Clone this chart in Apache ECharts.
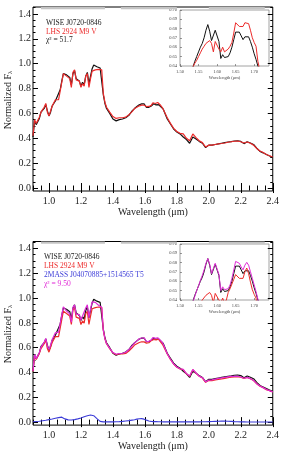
<!DOCTYPE html>
<html>
<head>
<meta charset="utf-8">
<script src="https://cdn.jsdelivr.net/npm/echarts@6/dist/echarts.min.js"></script>
<style>
  html, body { margin: 0; padding: 0; background: #fff; }
  #chart { width: 282px; height: 452px; }
</style>
</head>
<body>
<div id="chart"></div>
<script>
// wavelength grid (micron), finer inside the H-band peak shown in the insets
const wavelength = [
  0.90, 0.91, 0.92, 0.93, 0.94, 0.95, 0.96, 0.97, 0.98, 0.99,
  1.00, 1.01, 1.02, 1.03, 1.04, 1.05, 1.06, 1.07, 1.08, 1.09,
  1.10, 1.11, 1.12, 1.13, 1.14, 1.15, 1.16, 1.17, 1.18, 1.19,
  1.20, 1.21, 1.22, 1.23, 1.24, 1.25, 1.26, 1.27, 1.28, 1.29,
  1.30, 1.31, 1.32, 1.33, 1.34, 1.35, 1.36,
  1.38, 1.40, 1.42, 1.44, 1.46, 1.48, 1.50, 1.52,
  1.535, 1.540, 1.545, 1.550, 1.555, 1.560, 1.565, 1.570, 1.575, 1.580,
  1.585, 1.590, 1.595, 1.600, 1.605, 1.610, 1.615, 1.620, 1.625, 1.630,
  1.635, 1.640, 1.645, 1.650, 1.655, 1.660, 1.665, 1.670, 1.675, 1.680,
  1.685, 1.690, 1.695, 1.700, 1.705, 1.710, 1.715,
  1.72, 1.74, 1.76, 1.78, 1.80, 1.82, 1.84, 1.86, 1.88, 1.90,
  1.92, 1.94, 1.96, 1.98, 2.00, 2.02, 2.04, 2.06, 2.08, 2.10,
  2.12, 2.14, 2.16, 2.18, 2.20, 2.22, 2.24, 2.26, 2.28, 2.30,
  2.32, 2.34, 2.36, 2.38, 2.40,
];

// WISE J0720-0846
const wiseFlux = [
  0.41, 0.54, 0.51, 0.52, 0.56, 0.61, 0.62, 0.64, 0.67, 0.62,
  0.58, 0.61, 0.66, 0.68, 0.70, 0.73, 0.72, 0.79, 0.86, 0.92,
  0.93, 0.91, 0.91, 0.89, 0.83, 0.92, 0.945, 0.88, 0.87, 0.86,
  0.82, 0.85, 0.83, 0.90, 0.93, 0.84, 0.90, 0.96, 0.99, 0.98,
  0.975, 0.97, 0.965, 0.96, 0.75, 0.68, 0.64,
  0.60, 0.555, 0.54, 0.55, 0.555, 0.565, 0.585, 0.62,
  0.639, 0.645, 0.650, 0.655, 0.660, 0.664, 0.670, 0.678, 0.684, 0.677,
  0.667, 0.668, 0.678, 0.679, 0.666, 0.648, 0.652, 0.649, 0.649, 0.650,
  0.654, 0.660, 0.668, 0.676, 0.678, 0.676, 0.672, 0.668, 0.671, 0.673,
  0.671, 0.666, 0.660, 0.653, 0.647, 0.640, 0.634,
  0.62, 0.555, 0.515, 0.475, 0.45, 0.435, 0.41, 0.39, 0.36, 0.41,
  0.395, 0.375, 0.36, 0.325, 0.345, 0.345, 0.35, 0.355, 0.36, 0.365,
  0.37, 0.373, 0.378, 0.38, 0.375, 0.357, 0.372, 0.362, 0.35, 0.32,
  0.295, 0.283, 0.27, 0.258, 0.248,
];

// LHS 2924 M9 V, single-template fit (top panel)
const lhsFlux = [
  0.42, 0.55, 0.52, 0.53, 0.57, 0.61, 0.63, 0.65, 0.68, 0.61,
  0.58, 0.62, 0.66, 0.67, 0.71, 0.72, 0.71, 0.78, 0.85, 0.92,
  0.92, 0.90, 0.90, 0.88, 0.81, 0.93, 0.95, 0.87, 0.86, 0.86,
  0.81, 0.84, 0.82, 0.90, 0.92, 0.81, 0.88, 0.94, 0.955, 0.95,
  0.95, 0.955, 0.95, 0.95, 0.76, 0.69, 0.65,
  0.61, 0.575, 0.56, 0.565, 0.565, 0.57, 0.59, 0.615,
  0.639, 0.643, 0.646, 0.650, 0.654, 0.658, 0.661, 0.664, 0.666, 0.667,
  0.664, 0.655, 0.666, 0.668, 0.658, 0.655, 0.660, 0.655, 0.656, 0.658,
  0.661, 0.665, 0.675, 0.686, 0.685, 0.682, 0.680, 0.682, 0.686, 0.688,
  0.685, 0.678, 0.670, 0.665, 0.661, 0.645, 0.636,
  0.63, 0.565, 0.52, 0.48, 0.455, 0.44, 0.435, 0.40, 0.38, 0.435,
  0.405, 0.38, 0.365, 0.33, 0.345, 0.345, 0.35, 0.355, 0.358, 0.362,
  0.368, 0.372, 0.376, 0.378, 0.372, 0.362, 0.37, 0.36, 0.345, 0.318,
  0.298, 0.285, 0.27, 0.26, 0.25,
];

// LHS 2924 M9 V as primary of the binary fit (bottom panel)
const lhsPrimaryFlux = [
  0.408, 0.535, 0.505, 0.515, 0.554, 0.593, 0.612, 0.632, 0.661, 0.593,
  0.564, 0.603, 0.642, 0.651, 0.690, 0.700, 0.690, 0.758, 0.826, 0.894,
  0.894, 0.875, 0.875, 0.855, 0.787, 0.904, 0.923, 0.846, 0.836, 0.836,
  0.787, 0.816, 0.797, 0.875, 0.894, 0.787, 0.855, 0.914, 0.928, 0.923,
  0.923, 0.928, 0.923, 0.923, 0.739, 0.671, 0.632,
  0.593, 0.559, 0.544, 0.549, 0.549, 0.554, 0.573, 0.598,
  0.621, 0.625, 0.628, 0.632, 0.636, 0.640, 0.642, 0.645, 0.647, 0.648,
  0.645, 0.637, 0.647, 0.649, 0.640, 0.637, 0.642, 0.637, 0.640, 0.648,
  0.652, 0.657, 0.662, 0.667, 0.666, 0.663, 0.661, 0.663, 0.670, 0.674,
  0.668, 0.659, 0.651, 0.646, 0.642, 0.627, 0.618,
  0.612, 0.549, 0.505, 0.467, 0.442, 0.428, 0.423, 0.389, 0.369, 0.423,
  0.394, 0.369, 0.355, 0.321, 0.335, 0.335, 0.340, 0.345, 0.348, 0.352,
  0.358, 0.362, 0.365, 0.367, 0.362, 0.352, 0.360, 0.350, 0.335, 0.309,
  0.290, 0.277, 0.262, 0.253, 0.243,
];

// 2MASS J04070885+1514565 T5 secondary
const t5Flux = [
  0.003, 0.004, 0.005, 0.006, 0.007, 0.009, 0.011, 0.013, 0.015, 0.017,
  0.020, 0.022, 0.025, 0.028, 0.031, 0.034, 0.036, 0.038, 0.040, 0.036,
  0.026, 0.020, 0.018, 0.017, 0.017, 0.018, 0.020, 0.022, 0.026, 0.030,
  0.034, 0.038, 0.043, 0.048, 0.052, 0.055, 0.057, 0.056, 0.052, 0.042,
  0.028, 0.014, 0.006, 0.003, 0.002, 0.002, 0.002,
  0.002, 0.002, 0.003, 0.004, 0.006, 0.009, 0.012, 0.016,
  0.019, 0.021, 0.022, 0.024, 0.025, 0.026, 0.027, 0.028, 0.028, 0.028,
  0.027, 0.026, 0.024, 0.022, 0.019, 0.016, 0.013, 0.011, 0.009, 0.008,
  0.007, 0.006, 0.005, 0.005, 0.004, 0.004, 0.004, 0.004, 0.003, 0.003,
  0.003, 0.003, 0.003, 0.003, 0.003, 0.002, 0.002,
  0.002, 0.002, 0.002, 0.002, 0.002, 0.002, 0.002, 0.002, 0.002, 0.002,
  0.002, 0.002, 0.003, 0.003, 0.004, 0.005, 0.006, 0.007, 0.008, 0.008,
  0.007, 0.006, 0.004, 0.003, 0.002, 0.002, 0.001, 0.001, 0.001, 0.001,
  0.001, 0.001, 0.001, 0.001, 0.001,
];

// composite M9 + T5 spectrum
const compositeFlux = [
  0.412, 0.545, 0.512, 0.522, 0.562, 0.605, 0.625, 0.645, 0.675, 0.612,
  0.585, 0.622, 0.665, 0.678, 0.72, 0.735, 0.725, 0.795, 0.865, 0.93,
  0.92, 0.895, 0.895, 0.873, 0.805, 0.925, 0.945, 0.87, 0.862, 0.866,
  0.823, 0.855, 0.84, 0.92, 0.945, 0.842, 0.912, 0.97, 0.98, 0.965,
  0.95, 0.942, 0.93, 0.926, 0.741, 0.673, 0.634,
  0.595, 0.561, 0.547, 0.553, 0.555, 0.563, 0.585, 0.614,
  0.638, 0.644, 0.650, 0.655, 0.661, 0.666, 0.672, 0.679, 0.684, 0.678,
  0.668, 0.669, 0.679, 0.680, 0.667, 0.650, 0.654, 0.651, 0.651, 0.652,
  0.656, 0.663, 0.672, 0.681, 0.682, 0.679, 0.675, 0.672, 0.677, 0.680,
  0.677, 0.670, 0.663, 0.656, 0.649, 0.641, 0.634,
  0.614, 0.551, 0.507, 0.469, 0.444, 0.43, 0.425, 0.391, 0.371, 0.425,
  0.396, 0.371, 0.358, 0.324, 0.339, 0.34, 0.346, 0.352, 0.356, 0.36,
  0.365, 0.368, 0.369, 0.37, 0.364, 0.354, 0.361, 0.351, 0.336, 0.31,
  0.291, 0.278, 0.263, 0.254, 0.244,
];

// spectral ranges used in the fit, marked along the top axis
const fitRanges = [[0.95, 1.35], [1.45, 1.80], [2.00, 2.35]];

const xTickLabels = [1.0, 1.2, 1.4, 1.6, 1.8, 2.0, 2.2, 2.4];
const yTickLabels = [0.0, 0.2, 0.4, 0.6, 0.8, 1.0, 1.2, 1.4];

const FONT = '"Liberation Serif", "Times New Roman", serif';
const BLACK = '#111111';
const RED = '#ec2b2b';
const BLUE = '#3c3cd8';
const MAGENTA = '#e02ad6';

const seq = (from, to, step) => {
  const out = [];
  for (let v = from; v <= to + 1e-9; v += step) out.push(+v.toFixed(3));
  return out;
};
const xMinor = seq(0.9, 2.4, 0.05);
const yMinor = seq(0, 1.45, 0.05);

const pairs = (flux) => wavelength.map((w, i) => [w, flux[i]]);

const xAxes = [];
const yAxes = [];

// main panel: frame with inward ticks on all four sides
const mainAxes = (gridIndex) => {
  const xi = xAxes.length;
  const yi = yAxes.length;
  const tick = (vals, len) => ({
    show: true, inside: true, length: len, customValues: vals,
    lineStyle: { color: '#000', width: 1 },
  });
  const xBase = { gridIndex, type: 'value', min: 0.9, max: 2.4,
    axisLine: { show: false }, splitLine: { show: false } };
  const yBase = { gridIndex, type: 'value', min: -0.024, max: 1.456,
    axisLine: { show: false }, splitLine: { show: false } };
  xAxes.push({
    ...xBase, position: 'bottom', axisTick: tick(xTickLabels, 5),
    axisLabel: { customValues: xTickLabels, formatter: (v) => v.toFixed(1),
      fontFamily: FONT, fontSize: 10, color: '#222', margin: 5 },
    name: 'Wavelength (\u03bcm)', nameLocation: 'middle', nameGap: 15,
    nameTextStyle: { fontFamily: FONT, fontSize: 10, color: '#222' },
  });
  xAxes.push({ ...xBase, position: 'bottom', axisTick: tick(xMinor, 2.5), axisLabel: { show: false } });
  xAxes.push({ ...xBase, position: 'top', axisTick: tick(xTickLabels, 5), axisLabel: { show: false } });
  xAxes.push({ ...xBase, position: 'top', axisTick: tick(xMinor, 2.5), axisLabel: { show: false } });
  yAxes.push({
    ...yBase, position: 'left', axisTick: tick(yTickLabels, 5),
    axisLabel: { customValues: yTickLabels, formatter: (v) => v.toFixed(1),
      fontFamily: FONT, fontSize: 10, color: '#222', margin: 2 },
  });
  yAxes.push({ ...yBase, position: 'left', axisTick: tick(yMinor, 2.5), axisLabel: { show: false } });
  yAxes.push({ ...yBase, position: 'right', axisTick: tick(yTickLabels, 5), axisLabel: { show: false } });
  yAxes.push({ ...yBase, position: 'right', axisTick: tick(yMinor, 2.5), axisLabel: { show: false } });
  return { xi, yi };
};

const insetAxes = (gridIndex) => {
  const xi = xAxes.length;
  const yi = yAxes.length;
  const label = { fontFamily: FONT, fontSize: 4.5, color: '#444' };
  xAxes.push({
    gridIndex, type: 'value', min: 1.5, max: 1.74, interval: 0.05,
    axisLine: { show: false }, splitLine: { show: false },
    axisTick: { inside: true, length: 2, lineStyle: { color: '#555', width: 0.6 } },
    axisLabel: { ...label, margin: 3, formatter: (v) => v.toFixed(2), showMaxLabel: false },
    name: 'Wavelength (\u03bcm)', nameLocation: 'middle', nameGap: 9,
    nameTextStyle: label,
  });
  yAxes.push({
    gridIndex, type: 'value', min: 0.64, max: 0.6995, interval: 0.01,
    axisLine: { show: false }, splitLine: { show: false },
    axisTick: { inside: true, length: 2, lineStyle: { color: '#555', width: 0.6 } },
    axisLabel: { ...label, margin: 3, formatter: (v) => v.toFixed(2) },
  });
  return { xi, yi };
};

const topMain = mainAxes(0);
const topInset = insetAxes(1);
const botMain = mainAxes(2);
const botInset = insetAxes(3);

const line = (name, flux, color, ax, width, extra) => ({
  name, type: 'line', data: pairs(flux),
  xAxisIndex: ax.xi, yAxisIndex: ax.yi,
  showSymbol: false, silent: true, clip: true,
  lineStyle: { color, width },
  ...extra,
});

const bands = {
  silent: true,
  itemStyle: { color: '#c4c4c4' },
  data: fitRanges.map((r) => [{ xAxis: r[0], yAxis: 1.437 }, { xAxis: r[1], yAxis: 1.456 }]),
};

const legendText = (x, y, text, color) => ({
  type: 'text', x, y,
  style: { text, fill: color, font: `7.5px ${FONT}`, verticalAlign: 'middle' },
});

const yName = (y) => ({
  type: 'text', x: 8, y, rotation: Math.PI / 2,
  style: {
    text: 'Normalized F{sub|\u03bb}',
    font: `10px ${FONT}`, fill: '#222', align: 'center', verticalAlign: 'middle',
    rich: { sub: { fontFamily: FONT, fontSize: 6.5, fill: '#222', verticalAlign: 'bottom', padding: [4, 0, 0, 0] } },
  },
});

const chart = echarts.init(document.getElementById('chart'));
chart.setOption({
  animation: false,
  backgroundColor: '#fff',
  grid: [
    { left: 33, top: 7, width: 244, height: 184, show: true, borderColor: '#000', borderWidth: 1 },
    { left: 180, top: 10, width: 89, height: 56, show: true, backgroundColor: '#fff', borderColor: '#8a8a8a', borderWidth: 0.8 },
    { left: 33, top: 241.5, width: 244, height: 184, show: true, borderColor: '#000', borderWidth: 1 },
    { left: 180, top: 244, width: 89, height: 56, show: true, backgroundColor: '#fff', borderColor: '#8a8a8a', borderWidth: 0.8 },
  ],
  xAxis: xAxes,
  yAxis: yAxes,
  series: [
    line('WISE J0720-0846', wiseFlux, BLACK, topMain, 1.2, { markArea: bands }),
    line('LHS 2924', lhsFlux, RED, topMain, 1.2),
    line('WISE inset', wiseFlux, BLACK, topInset, 1),
    line('LHS inset', lhsFlux, RED, topInset, 1),

    line('WISE J0720-0846 b', wiseFlux, BLACK, botMain, 1.2, { markArea: bands }),
    line('LHS 2924 b', lhsPrimaryFlux, RED, botMain, 1.2),
    line('T5', t5Flux, BLUE, botMain, 1.1),
    line('Composite', compositeFlux, MAGENTA, botMain, 1.2),
    line('WISE inset b', wiseFlux, BLACK, botInset, 1),
    line('LHS inset b', lhsPrimaryFlux, RED, botInset, 1),
    line('Composite inset', compositeFlux, MAGENTA, botInset, 1),
  ],
  graphic: [
    legendText(46, 23.5, 'WISE J0720-0846', '#222'),
    legendText(46, 32, 'LHS 2924 M9 V', RED),
    legendText(46, 40.5, '\u03c7\u00b2 = 51.7', '#222'),
    legendText(44, 257.5, 'WISE J0720-0846', '#222'),
    legendText(44, 266.3, 'LHS 2924 M9 V', RED),
    legendText(44, 275.2, '2MASS J04070885+1514565 T5', BLUE),
    legendText(44, 284, '\u03c7\u00b2 = 9.50', MAGENTA),
    yName(100),
    yName(334),
  ],
});
</script>
</body>
</html>
